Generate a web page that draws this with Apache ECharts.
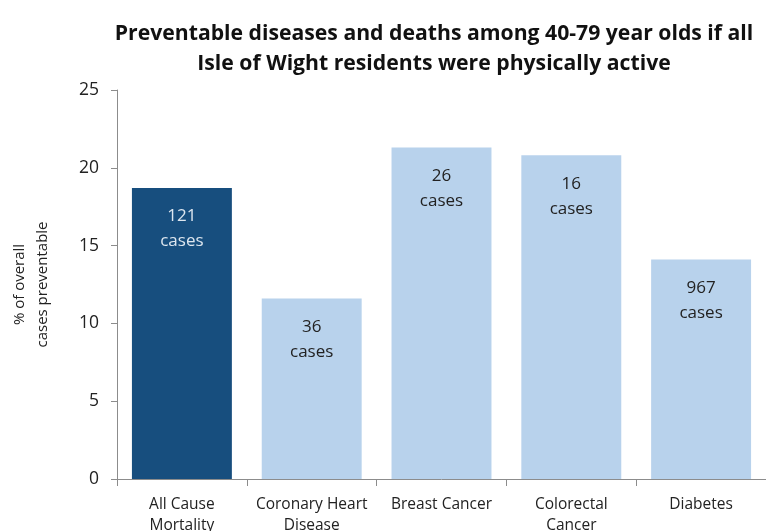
<!DOCTYPE html>
<html>
<head>
<meta charset="utf-8">
<script src="https://cdn.jsdelivr.net/npm/echarts@6/dist/echarts.min.js"></script>
<style>html,body{margin:0;padding:0;background:#fff}#c{width:766px;height:531px}</style>
</head>
<body>
<div id="c"></div>
<script>
var categories = ['All Cause\nMortality', 'Coronary Heart\nDisease', 'Breast Cancer', 'Colorectal\nCancer', 'Diabetes'];
var percentPreventable = [18.7, 11.6, 21.3, 20.8, 14.1];
var casesPreventable = [121, 36, 26, 16, 967];
var yTicks = [0, 5, 10, 15, 20, 25];

var FONT = 'Open Sans';
var chart = echarts.init(document.getElementById('c'), null, {renderer: 'canvas'});
var data = percentPreventable.map(function (v, i) {
  var dark = i === 0;
  return {
    value: v,
    itemStyle: {color: dark ? '#174e7e' : '#b8d2ec'},
    label: {color: dark ? '#dde6ef' : '#222222'}
  };
});
chart.setOption({
  animation: false,
  title: {
    text: 'Preventable diseases and deaths among 40-79 year olds if all\nIsle of Wight residents were physically active',
    left: 429,
    top: 14,
    textAlign: 'center',
    textStyle: {fontFamily: FONT, fontWeight: 'bold', fontSize: 21.2, lineHeight: 30, color: '#111'}
  },
  grid: {left: 117, right: 0, top: 90, bottom: 52, containLabel: false, outerBoundsMode: 'none'},
  xAxis: {
    type: 'category',
    data: categories,
    axisLine: {lineStyle: {color: '#8c8c8c', width: 1}},
    axisTick: {show: true, length: 7, lineStyle: {color: '#8c8c8c'}},
    axisLabel: {fontFamily: FONT, fontSize: 15.5, lineHeight: 21, color: '#222', margin: 15, interval: 0}
  },
  yAxis: {
    type: 'value',
    min: yTicks[0],
    max: yTicks[yTicks.length - 1],
    interval: yTicks[1] - yTicks[0],
    name: '% of overall\ncases preventable',
    nameLocation: 'middle',
    nameGap: 63,
    nameRotate: 90,
    nameTextStyle: {fontFamily: FONT, fontSize: 15, lineHeight: 23, color: '#222'},
    splitLine: {show: false},
    axisLine: {show: true, lineStyle: {color: '#8c8c8c', width: 1}},
    axisTick: {show: true, length: 6, lineStyle: {color: '#8c8c8c'}},
    axisLabel: {fontFamily: FONT, fontSize: 17.5, color: '#222', margin: 18}
  },
  series: [{
    type: 'bar',
    data: data,
    barCategoryGap: '23%',
    label: {
      show: true,
      position: 'insideTop',
      distance: 16,
      fontFamily: FONT,
      fontSize: 17,
      lineHeight: 25,
      formatter: function (p) { return casesPreventable[p.dataIndex] + '\ncases'; }
    }
  }]
});
</script>
</body>
</html>
